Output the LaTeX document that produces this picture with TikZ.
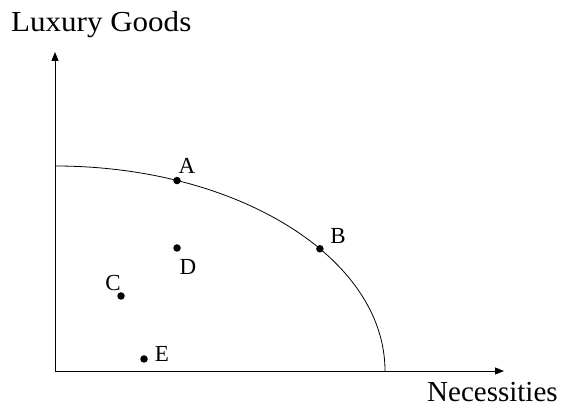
\documentclass[tikz,border=0pt]{standalone}
\usepackage{fontspec}
\setmainfont{Liberation Serif}
\usetikzlibrary{arrows.meta,calc}
\begin{document}
\begin{tikzpicture}[x=1pt,y=1pt,
  axis/.style={line width=0.9pt,-{Triangle[length=9pt,width=7pt]}},
  ppf/.style={line width=0.8pt},
  dot/.style={circle,fill=black,inner sep=0pt,minimum size=7.5pt},
  ptlabel/.style={font=\fontsize{23}{26}\selectfont,inner sep=0pt},
  axlabel/.style={font=\fontsize{29}{32}\selectfont,inner sep=0pt}]
\useasboundingbox (0,0) rectangle (571,415);
\coordinate (O) at (55,44);
\coordinate (Ytip) at (55,363);
\coordinate (Xtip) at (504,44);
\draw[axis] (O) -- (Ytip);
\draw[axis] (O) -- (Xtip);
\coordinate (Top) at (55,249);
\draw[ppf] (Top) arc[start angle=90,end angle=0,x radius=330,y radius=205];
\node[dot] (A) at ($(O)+(68.3:330 and 205)$) {};
\node[dot] (B) at ($(O)+(36.6:330 and 205)$) {};
\node[dot] (D) at (177,167) {};
\node[dot] (C) at (121,119) {};
\node[dot] (E) at (144,56) {};
\node[ptlabel] (lA) at (187,249) {A};
\node[ptlabel] (lB) at (338,179) {B};
\node[ptlabel] (lD) at (188,148) {D};
\node[ptlabel] (lC) at (113,132) {C};
\node[ptlabel] (lE) at (162,61) {E};
\node[axlabel,anchor=base west] (ly) at (11,383) {\scalebox{1.07}[1]{Luxury Goods}};
\node[axlabel,anchor=base west] (lx) at (427,13) {Necessities};
\end{tikzpicture}
\end{document}
